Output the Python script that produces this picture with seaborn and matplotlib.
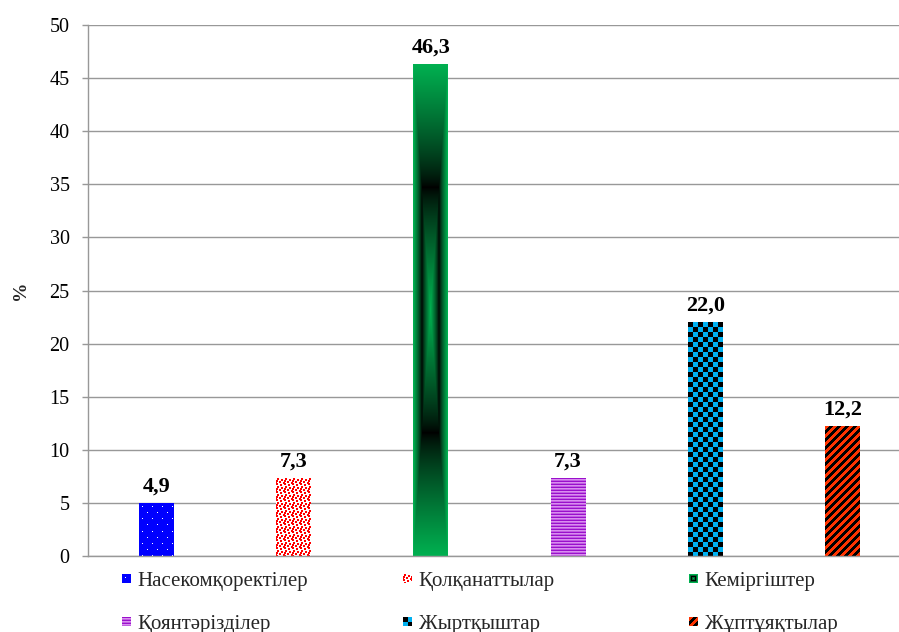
import numpy as np
import pandas as pd
import matplotlib
matplotlib.use("Agg")
import matplotlib.pyplot as plt
import matplotlib.colors as mcolors
from matplotlib.patches import Patch, Rectangle
from matplotlib.legend_handler import HandlerBase
import seaborn as sns

# --- data -------------------------------------------------------------
groups = ["Насекомқоректілер", "Қолқанаттылар", "Кеміргіштер",
          "Қоянтәрізділер", "Жыртқыштар", "Жұптұяқтылар"]
shares = [4.9, 7.3, 46.3, 7.3, 22.0, 12.2]
y_ticks = [0, 5, 10, 15, 20, 25, 30, 35, 40, 45, 50]
base_colors = ["#0000FF", "#FF0000", "#00B050", "#B040E0", "#00B0F0", "#FF3300"]
fill_kinds = ["dots", "confetti", "gradient", "hlines", "checker", "diagonal"]

W, H, DPI = 899, 632, 100
GRID = "#989898"

sns.set_theme(style="white")
plt.rcParams["font.family"] = ["Liberation Serif", "DejaVu Serif"]


def rgb(c):
    return np.array(mcolors.to_rgb(c))


def texture(kind, w, h):
    """Pixel texture (h x w x 3) used to fill a bar or a legend swatch."""
    yy, xx = np.mgrid[0:h, 0:w]
    img = np.ones((h, w, 3))
    if kind == "dots":
        img[:] = rgb("#0000FF")
        r = yy % 12
        mask = ((r == 3) & (xx % 10 == 3)) | ((r == 9) & (xx % 10 == 8))
        img[mask] = 1.0
    elif kind == "confetti":
        tile = np.zeros((8, 8), bool)
        for (r0, c0) in [(0, 1), (1, 5), (3, 3), (4, 7), (5, 0), (6, 4), (2, 0)]:
            for dr in (0, 1):
                for dc in (0, 1):
                    tile[(r0 + dr) % 8, (c0 + dc) % 8] = True
        mask = tile[yy % 8, xx % 8]
        img[mask] = rgb("#FF0000")
    elif kind == "hlines":
        cols = [rgb("#9A10CC"), rgb("#D98DF0"), rgb("#C060E0")]
        for k in range(3):
            img[(yy % 3) == k] = cols[k]
    elif kind == "checker":
        mask = ((xx // 5 + yy // 5) % 2) == 0
        img[:] = rgb("#00B0F0")
        img[mask] = 0.0
    elif kind == "diagonal":
        mask = ((xx + yy) % 8) < 4
        img[:] = 0.0
        img[mask] = rgb("#FF3300")
    elif kind == "gradient":
        cx, cy = (w - 1) / 2, (h - 1) / 2
        dx = np.abs(xx - cx) / max(cx, 1)
        dy = np.abs(yy - cy) / max(cy, 1)
        d = np.maximum(dx, dy)
        k = np.clip(np.abs(2 * d - 1), 0, 1) ** 0.75
        img = k[..., None] * rgb("#00B050")[None, None, :]
    return img


class SwatchHandler(HandlerBase):
    """Draws a small textured square as the legend key."""

    def __init__(self, kind, **kw):
        super().__init__(**kw)
        self.kind = kind

    def create_artists(self, legend, orig_handle, xdescent, ydescent,
                       width, height, fontsize, trans):
        n = 9
        side = n * 72 / DPI
        cell = side / n
        tex = texture(self.kind, n, n)
        x0 = -xdescent + (width - side)
        y0 = -ydescent + (height - side) / 2
        arts = []
        for r in range(n):
            for c in range(n):
                arts.append(Rectangle((x0 + c * cell, y0 + (n - 1 - r) * cell),
                                      cell, cell, facecolor=tex[r, c],
                                      edgecolor="none", linewidth=0,
                                      antialiased=False, transform=trans))
        return arts


# --- figure -----------------------------------------------------------
fig = plt.figure(figsize=(W / DPI, H / DPI), dpi=DPI)
ax_left, ax_right = 88, 911
ax_top, ax_bottom = 25, 556
ax = fig.add_axes([ax_left / W, 1 - ax_bottom / H,
                   (ax_right - ax_left) / W, (ax_bottom - ax_top) / H])

df = pd.DataFrame({"group": groups, "share": shares})
sns.barplot(data=df, x="group", y="share", hue="group", palette=base_colors,
            order=groups, hue_order=groups, width=0.255, saturation=1,
            legend=False, ax=ax, linewidth=0, edgecolor="none")

ax.set_ylim(0, 50)
ax.set_xlim(-0.5, len(groups) - 0.5)
ax.set_yticks(y_ticks)
ax.set_yticklabels([str(t) for t in y_ticks], fontsize=14.5)
ax.set_xticks([])
ax.set_xlabel("")
ax.set_ylabel("%", fontsize=14, fontweight="bold")
ax.yaxis.set_label_coords(-0.072, 0.5)

ax.grid(axis="y", color=GRID, linewidth=1.0)
ax.set_axisbelow(True)
for s in ("top", "right"):
    ax.spines[s].set_visible(False)
for s in ("left", "bottom"):
    ax.spines[s].set_color(GRID)
    ax.spines[s].set_linewidth(1.0)
ax.tick_params(axis="y", direction="out", length=4.3, width=1.0,
               color=GRID, pad=9, left=True, labelcolor="black")

# value labels
for i, v in enumerate(shares):
    ax.annotate(f"{v:.1f}".replace(".", ","), xy=(i, v), xytext=(0, 8.6),
                textcoords="offset points", ha="center", va="baseline",
                fontsize=16, fontweight="bold", color="black")

# textured fills clipped to each bar
fig.canvas.draw()
xlim, ylim = ax.get_xlim(), ax.get_ylim()
bars = [b for cont in ax.containers for b in cont]
for bar, kind in zip(bars, fill_kinds):
    ext = bar.get_window_extent()
    pw, ph = max(int(round(ext.width)), 2), max(int(round(ext.height)), 2)
    x0, y0 = bar.get_x(), bar.get_y()
    ax.imshow(texture(kind, pw, ph), extent=(x0, x0 + bar.get_width(),
                                            y0, y0 + bar.get_height()),
              origin="upper", interpolation="nearest", aspect="auto",
              clip_path=bar, zorder=bar.get_zorder() + 0.1)
ax.set_xlim(xlim)
ax.set_ylim(ylim)

# legend: three columns of two entries each
handles = [Patch(facecolor=c) for c in base_colors]
col_x = [121, 402, 688]
for col in range(3):
    idx = [col, col + 3]
    fig.legend([handles[i] for i in idx], [groups[i] for i in idx],
               handler_map={handles[i]: SwatchHandler(fill_kinds[i]) for i in idx},
               loc="upper left", bbox_to_anchor=(col_x[col] / W, 1 - 571 / H),
               frameon=False, fontsize=15, borderpad=0, borderaxespad=0,
               handlelength=0.47, handletextpad=0.33, labelspacing=1.12)

fig.savefig("out.png", dpi=DPI)
